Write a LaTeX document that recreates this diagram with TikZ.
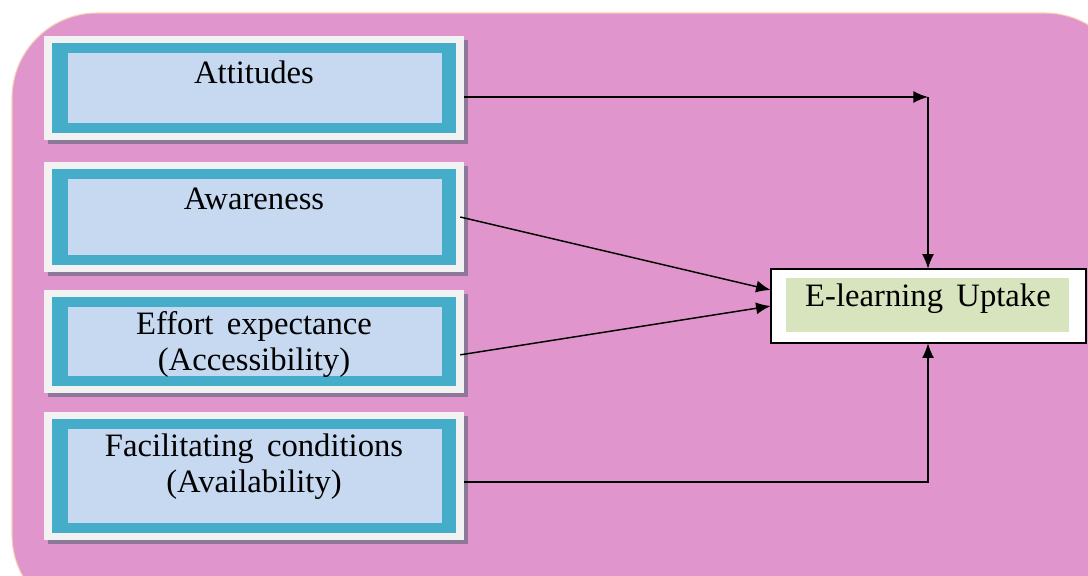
\documentclass[tikz,border=0pt]{standalone}
\usepackage{fontspec}
\setmainfont{Liberation Serif}
\usetikzlibrary{arrows.meta,fit,calc}
\definecolor{bgpink}{HTML}{E096CC}
\definecolor{peach}{HTML}{F6CFB4}
\definecolor{outerc}{HTML}{F2F2F2}
\definecolor{tealc}{HTML}{45ADC9}
\definecolor{innerc}{HTML}{C6D9F1}
\definecolor{shadowc}{HTML}{8C7898}
\definecolor{greenc}{HTML}{D7E4BD}
\newcommand\lblfont{\fontsize{24.5}{27}\selectfont\spaceskip=10pt plus 2pt\relax}
\newcommand\factorbox[5]{%
  \fill[shadowc] (#2+4,#3+4) rectangle (#4+4,#5+4);
  \fill[outerc] (#2,#3) rectangle (#4,#5);
  \fill[tealc] (#2+8,#3+7) rectangle (#4-8,#5-7);
  \fill[innerc] (#2+24,#3+17) rectangle (#4-22,#5-17);
  \node[fit={(#2,#3)(#4,#5)}, inner sep=0pt] (#1) {};
}
\begin{document}
\begin{tikzpicture}[x=0.75pt,y=-0.75pt,
  lbl/.style={font=\lblfont, align=center, inner sep=0pt, text=black},
  conn/.style={draw=black, line width=1.1pt},
  arr/.style={conn, -{Latex[length=11pt,width=9pt]}}]
\useasboundingbox (0,0) rectangle (1088,575);
\fill[white] (0,0) rectangle (1088,575);
\draw[fill=bgpink, draw=peach, line width=0.8pt, rounded corners=64pt] (12,13) rectangle (1130,620);

\factorbox{att}{44}{36}{464}{140}
\factorbox{awa}{44}{162}{464}{272}
\factorbox{eff}{44}{290}{464}{393}
\factorbox{fac}{44}{412}{464}{540}

\node[lbl] (tatt) at (254,72) {Attitudes};
\node[lbl] (tawa) at (254,199) {Awareness};
\node[lbl] (teff) at (254,345) {Effort expectance\\(Accessibility)};
\node[lbl] (tfac) at (254,467) {Facilitating conditions\\(Availability)};

\draw[fill=white, draw=black, line width=1.2pt] (771,269) rectangle (1086,343);
\fill[greenc] (786,278) rectangle (1069,332);
\node[fit={(771,269)(1086,343)}, inner sep=0pt] (upt) {};
\node[lbl] (tupt) at (928,299) {E-learning Uptake};

\coordinate (j1) at (928,97);
\coordinate (j2) at (928,482);

\draw[arr] (att.east |- j1) -- (j1);
\draw[arr] (j1) -- (upt.north -| j1);
\draw[arr] ([xshift=-3pt]awa.east) -- ([yshift=12pt]upt.west);
\draw[arr] ([xshift=-3pt,yshift=-10pt]eff.east) -- (upt.west);
\draw[arr] (fac.east |- j2) -- (j2) -- (upt.south -| j2);
\end{tikzpicture}
\end{document}
